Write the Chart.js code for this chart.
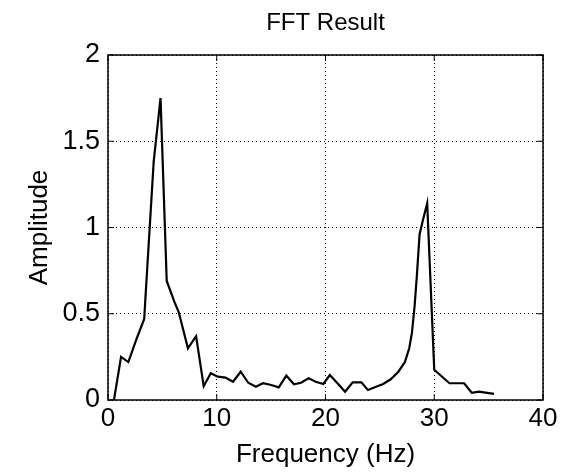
<!DOCTYPE html>
<html>
<head>
<meta charset="utf-8">
<script src="https://cdn.jsdelivr.net/npm/chart.js@4.4.1/dist/chart.umd.min.js"></script>
<style>
    html, body { margin: 0; padding: 0; background: #fff; }
    #wrap { width: 561px; height: 476px; }
</style>
</head>
<body>
<div id="wrap"><canvas id="fftChart"></canvas></div>
<script>
// frecuencias (Hz) y amplitudes
const frecuencias = [0.55, 1.2, 1.87, 2.6, 3.33, 3.45, 4.2, 4.83, 5.4, 6.1, 6.5, 7.35, 8.1, 8.8, 9.45,
    10.1, 10.8, 11.5, 12.2, 12.9, 13.6, 14.25, 15.0, 15.7, 16.4, 17.1, 17.75, 18.45, 19.1, 19.8,
    20.4, 21.1, 21.8, 22.5, 23.3, 23.9, 24.65, 25.3, 26.0, 26.7, 27.3, 27.7, 27.95, 28.2, 28.4,
    28.65, 28.95, 29.35, 30.0, 31.4, 32.75, 33.45, 34.1, 35.5];
const amplitudes = [0, 0.25, 0.22, 0.35, 0.47, 0.6, 1.38, 1.75, 0.69, 0.57, 0.51, 0.3, 0.37, 0.08, 0.155,
    0.135, 0.13, 0.106, 0.164, 0.1, 0.077, 0.097, 0.087, 0.073, 0.141, 0.091, 0.1, 0.126, 0.106, 0.093,
    0.145, 0.097, 0.048, 0.102, 0.102, 0.058, 0.077, 0.093, 0.12, 0.164, 0.22, 0.3, 0.39, 0.55, 0.72,
    0.96, 1.04, 1.14, 0.175, 0.097, 0.097, 0.042, 0.048, 0.035];
const xTicks = [0, 10, 20, 30, 40];
const yTicks = [0, 0.5, 1, 1.5, 2];
const titulo = 'FFT Result';

const puntos = frecuencias.map((f, i) => ({ x: f, y: amplitudes[i] }));

const fuente = 'Liberation Sans, Arial, Helvetica, sans-serif';

// marco, marcas hacia dentro y titulo centrado sobre el area del grafico (estilo matlab)
const marcoPlugin = {
    id: 'marco',
    afterDraw(chart) {
        const { ctx, chartArea: a, scales } = chart;
        ctx.save();
        ctx.strokeStyle = '#000';
        ctx.lineWidth = 1.5;
        ctx.strokeRect(a.left, a.top, a.right - a.left, a.bottom - a.top);
        ctx.lineWidth = 1;
        ctx.beginPath();
        scales.x.ticks.forEach(t => {
            const px = scales.x.getPixelForValue(t.value);
            ctx.moveTo(px, a.bottom); ctx.lineTo(px, a.bottom - 6);
            ctx.moveTo(px, a.top); ctx.lineTo(px, a.top + 6);
        });
        scales.y.ticks.forEach(t => {
            const py = scales.y.getPixelForValue(t.value);
            ctx.moveTo(a.left, py); ctx.lineTo(a.left + 6, py);
            ctx.moveTo(a.right, py); ctx.lineTo(a.right - 6, py);
        });
        ctx.stroke();

        ctx.fillStyle = '#000';
        ctx.font = '24px ' + fuente;
        ctx.textAlign = 'center';
        ctx.textBaseline = 'middle';
        ctx.fillText(titulo, (a.left + a.right) / 2, 23);
        ctx.restore();
    }
};

new Chart(document.getElementById('fftChart'), {
    type: 'scatter',
    data: {
        datasets: [{
            data: puntos,
            showLine: true,
            borderColor: '#000',
            borderWidth: 2.2,
            pointRadius: 0,
            tension: 0
        }]
    },
    options: {
        responsive: true,
        maintainAspectRatio: false,
        animation: false,
        layout: { padding: { left: 0, right: 18, top: 55, bottom: 0 } },
        plugins: {
            legend: { display: false },
            tooltip: { enabled: false },
            title: { display: false }
        },
        scales: {
            x: {
                type: 'linear',
                min: 0,
                max: 40,
                afterBuildTicks: s => { s.ticks = xTicks.map(v => ({ value: v })); },
                afterFit: s => { s.height = 76; },
                ticks: {
                    color: '#000',
                    padding: 3,
                    font: { family: fuente, size: 26 },
                    callback: v => String(v)
                },
                grid: { color: '#000', lineWidth: 1, drawTicks: false },
                border: { display: false, dash: [1, 3] },
                title: {
                    display: true,
                    text: 'Frequency (Hz)',
                    color: '#000',
                    font: { family: fuente, size: 26, lineHeight: 1.2 },
                    padding: { top: 0, bottom: 6 }
                }
            },
            y: {
                type: 'linear',
                min: 0,
                max: 2,
                afterBuildTicks: s => { s.ticks = yTicks.map(v => ({ value: v })); },
                afterFit: s => { s.width = 108; },
                ticks: {
                    color: '#000',
                    padding: 8,
                    font: { family: fuente, size: 27 },
                    callback: v => String(v)
                },
                grid: { color: '#000', lineWidth: 1, drawTicks: false },
                border: { display: false, dash: [1, 3] },
                title: {
                    display: true,
                    text: 'Amplitude',
                    color: '#000',
                    font: { family: fuente, size: 26, lineHeight: 1.2 },
                    padding: { top: 24, bottom: 0 }
                }
            }
        }
    },
    plugins: [marcoPlugin]
});
</script>
</body>
</html>
